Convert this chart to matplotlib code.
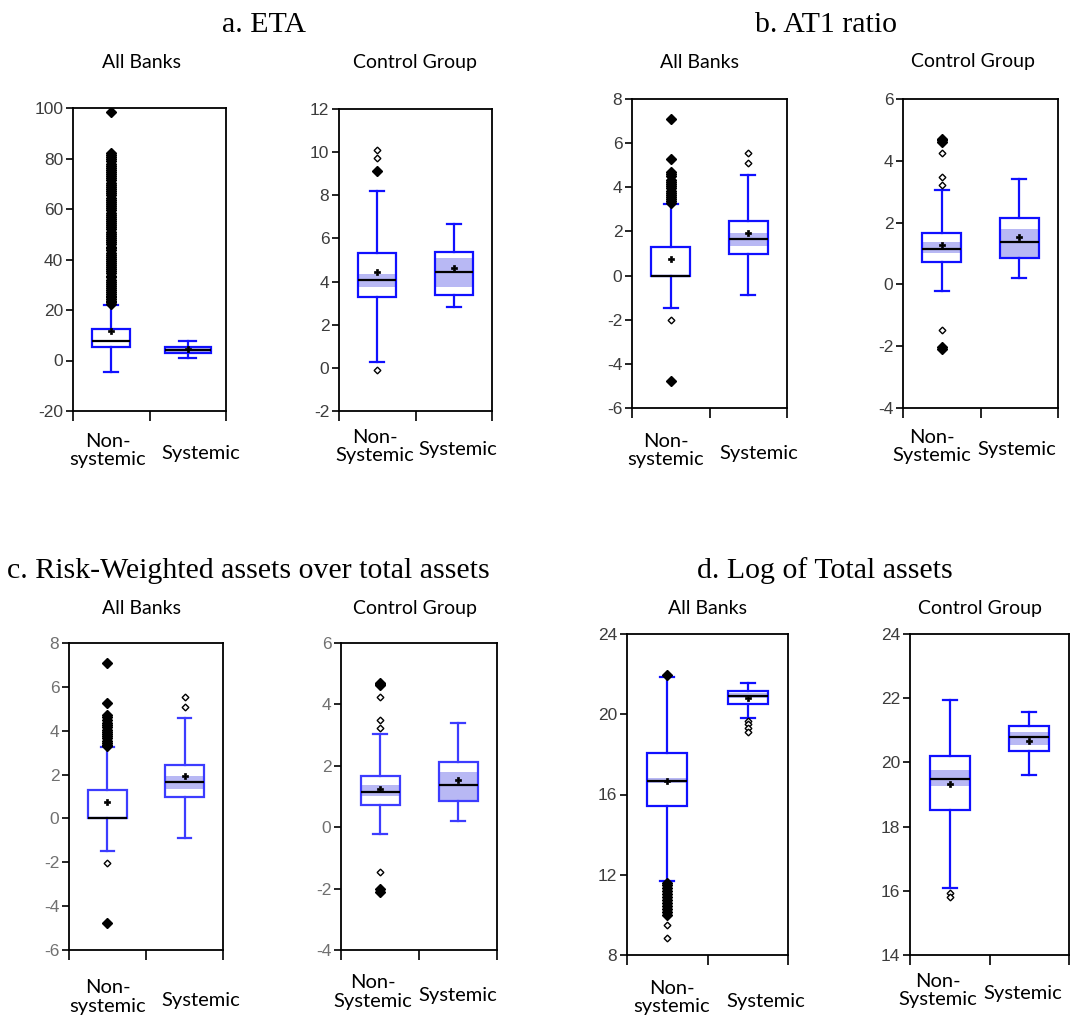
import matplotlib
matplotlib.use("Agg")
import matplotlib.pyplot as plt

W, H = 1071, 1025
fig = plt.figure(figsize=(W / 100, H / 100), dpi=100)
fig.patch.set_facecolor("white")

# ---------------- data ----------------
groups_all = ["Non-systemic", "Systemic"]
groups_ctrl = ["Non-Systemic", "Systemic"]

# a. ETA - All Banks
a_all_q1 = [5.5, 2.9]
a_all_med = [7.8, 4.2]
a_all_q3 = [12.4, 5.5]
a_all_wlo = [-4.4, 0.9]
a_all_whi = [22.0, 7.8]
a_all_mean = [11.7, 4.4]
a_all_ci = [(7.6, 8.0), (3.3, 5.1)]
a_all_far = [[22.5, 23, 23.6, 24.2, 25, 25.7, 26.5, 27.1, 28, 28.8, 29.5, 30.4, 31.2, 32,
              32.9, 33.6, 34.5, 35.3, 36.1, 37, 37.8, 38.6, 39.5, 40.2, 41, 41.9, 42.7,
              43.6, 44.4, 45.1, 46, 46.8, 47.7, 48.5, 49.4, 50.2, 51, 51.9, 52.8, 53.6,
              54.3, 55.2, 56.1, 56.9, 57.8, 58.6, 59.5, 60.3, 61.2, 62, 62.9, 63.7, 64.5,
              65.4, 66.2, 67.1, 67.9, 68.8, 69.6, 70.4, 71.3, 72.1, 73, 73.8, 74.7, 75.5,
              76.3, 77.2, 78, 78.9, 79.7, 80.5, 81.3, 82.0, 98.5], []]
a_all_near = [[], []]

# a. ETA - Control Group
a_ctl_q1 = [3.27, 3.36]
a_ctl_med = [4.07, 4.43]
a_ctl_q3 = [5.31, 5.39]
a_ctl_wlo = [0.27, 2.84]
a_ctl_whi = [8.21, 6.65]
a_ctl_mean = [4.43, 4.61]
a_ctl_ci = [(3.76, 4.35), (3.76, 5.08)]
a_ctl_far = [[9.13], []]
a_ctl_near = [[10.1, 9.71, -0.1], []]

# b. AT1 ratio - All Banks
b_all_q1 = [0.0, 0.97]
b_all_med = [0.0, 1.66]
b_all_q3 = [1.29, 2.45]
b_all_wlo = [-1.49, -0.9]
b_all_whi = [3.25, 4.56]
b_all_mean = [0.76, 1.92]
b_all_ci = [(-0.02, 0.02), (1.36, 1.95)]
b_all_far = [[7.11, 5.28, 3.3, 3.37, 3.45, 3.55, 3.65, 3.75, 3.85, 3.95, 4.05, 4.15,
              4.25, 4.35, 4.5, 4.62, 4.71, -4.76], []]
b_all_near = [[-2.03], [5.54, 5.09]]

# b. AT1 ratio - Control Group
b_ctl_q1 = [0.73, 0.85]
b_ctl_med = [1.15, 1.36]
b_ctl_q3 = [1.66, 2.14]
b_ctl_wlo = [-0.22, 0.21]
b_ctl_whi = [3.04, 3.41]
b_ctl_mean = [1.26, 1.55]
b_ctl_ci = [(1.01, 1.37), (0.9, 1.8)]
b_ctl_far = [[4.7, 4.66, 4.62, -2.02, -2.1], []]
b_ctl_near = [[4.24, 3.49, 3.22, -1.47], []]

# c. Risk-Weighted assets over total assets - All Banks
c_all_q1 = [0.0, 0.97]
c_all_med = [0.0, 1.66]
c_all_q3 = [1.29, 2.45]
c_all_wlo = [-1.49, -0.9]
c_all_whi = [3.25, 4.56]
c_all_mean = [0.76, 1.92]
c_all_ci = [(-0.02, 0.02), (1.36, 1.95)]
c_all_far = [[7.11, 5.28, 3.3, 3.37, 3.45, 3.55, 3.65, 3.75, 3.85, 3.95, 4.05, 4.15,
              4.25, 4.35, 4.5, 4.62, 4.71, -4.76], []]
c_all_near = [[-2.03], [5.54, 5.09]]

# c. Risk-Weighted assets over total assets - Control Group
c_ctl_q1 = [0.73, 0.85]
c_ctl_med = [1.15, 1.36]
c_ctl_q3 = [1.66, 2.14]
c_ctl_wlo = [-0.22, 0.21]
c_ctl_whi = [3.04, 3.41]
c_ctl_mean = [1.26, 1.55]
c_ctl_ci = [(1.01, 1.37), (0.9, 1.8)]
c_ctl_far = [[4.7, 4.66, 4.62, -2.02, -2.1], []]
c_ctl_near = [[4.24, 3.49, 3.22, -1.47], []]

# d. Log of Total assets - All Banks
d_all_q1 = [15.45, 20.52]
d_all_med = [16.68, 20.92]
d_all_q3 = [18.06, 21.17]
d_all_wlo = [11.69, 19.79]
d_all_whi = [21.84, 21.57]
d_all_mean = [16.68, 20.8]
d_all_ci = [(16.57, 16.8), (20.79, 21.06)]
d_all_far = [[21.97, 11.6, 11.48, 11.35, 11.2, 11.05, 10.9, 10.75, 10.6, 10.45, 10.3,
              10.15, 10.0], []]
d_all_near = [[9.5, 8.87], [19.64, 19.5, 19.3, 19.14]]

# d. Log of Total assets - Control Group
d_ctl_q1 = [18.52, 20.37]
d_ctl_med = [19.48, 20.78]
d_ctl_q3 = [20.19, 21.14]
d_ctl_wlo = [16.1, 19.6]
d_ctl_whi = [21.95, 21.57]
d_ctl_mean = [19.32, 20.68]
d_ctl_ci = [(19.25, 19.77), (20.55, 20.96)]
d_ctl_far = [[], []]
d_ctl_near = [[15.92, 15.8], []]

panel_titles = ["a. ETA", "b. AT1 ratio",
                "c. Risk-Weighted assets over total assets", "d. Log of Total assets"]
sub_titles = ["All Banks", "Control Group"]

# ---------------- styling ----------------
SANS = ["Lato", "DejaVu Sans"]
SERIF = ["Liberation Serif", "DejaVu Serif"]
TICKF = ["Liberation Sans", "DejaVu Sans"]
BAND = "#b8b8f4"


def px_rect(x0, y0, x1, y1):
    return [x0 / W, 1 - y1 / H, (x1 - x0) / W, (y1 - y0) / H]


def draw_panel(rect, q1, med, q3, wlo, whi, mean, ci, far, near, ylim, yticks,
               blue="#1010ff", widths=(0.5, 0.5), lw=1.6, tickcolor="#3c3c3c"):
    ax = fig.add_axes(px_rect(*rect))
    pos = [0.5, 1.5]
    stats = []
    for i in range(2):
        stats.append(dict(q1=q1[i], med=med[i], q3=q3[i], whislo=wlo[i],
                          whishi=whi[i], mean=mean[i], fliers=[]))
    # notch / confidence band
    for i in range(2):
        lo, hi = ci[i]
        ax.bar(pos[i], hi - lo, bottom=lo, width=widths[i] * 0.97, color=BAND,
               edgecolor="none", zorder=1)
    ax.bxp(stats, positions=pos, widths=list(widths),
           capwidths=[w * 0.36 for w in widths],
           showmeans=False, showfliers=False, patch_artist=True,
           boxprops=dict(facecolor="none", edgecolor=blue, linewidth=lw),
           whiskerprops=dict(color=blue, linewidth=lw),
           capprops=dict(color=blue, linewidth=lw),
           medianprops=dict(color="black", linewidth=lw),
           zorder=2)
    ax.plot(pos, mean, linestyle="none", marker="P", ms=4.5, color="black",
            mec="black", mew=0.5, zorder=4)
    for i in range(2):
        if far[i]:
            ax.plot([pos[i]] * len(far[i]), far[i], linestyle="none", marker="D",
                    ms=4.6, color="black", zorder=4)
        if near[i]:
            ax.plot([pos[i]] * len(near[i]), near[i], linestyle="none", marker="D",
                    ms=3.4, mfc="white", mec="black", mew=1.0, zorder=4)
    ax.set_xlim(0, 2)
    ax.set_ylim(*ylim)
    ax.set_yticks(yticks)
    ax.set_yticklabels([str(t) for t in yticks], fontfamily=TICKF, fontsize=12.5,
                       color=tickcolor)
    ax.set_xticks([0, 1, 2])
    ax.set_xticklabels([])
    ax.tick_params(axis="y", direction="out", length=5, width=1.2, pad=2)
    ax.tick_params(axis="x", direction="out", length=7, width=1.2)
    for s in ax.spines.values():
        s.set_linewidth(1.3)
        s.set_color("black")
    return ax


def ftext(x, y, s, **kw):
    fig.text(x / W, 1 - y / H, s, **kw)


def xlabels(xn, xs, y1, y2, ys, second, size=14.5):
    ftext(xn, y1, "Non-", ha="center", va="baseline", fontfamily=SANS, fontsize=size)
    ftext(xn, y2, second, ha="center", va="baseline", fontfamily=SANS, fontsize=size)
    ftext(xs, ys, groups_all[1], ha="center", va="baseline", fontfamily=SANS,
          fontsize=size)


# ---------------- panels ----------------
draw_panel((73, 108, 226, 411), a_all_q1, a_all_med, a_all_q3, a_all_wlo, a_all_whi,
           a_all_mean, a_all_ci, a_all_far, a_all_near, (-20, 100),
           [-20, 0, 20, 40, 60, 80, 100], widths=(0.5, 0.6))
draw_panel((339, 109, 492, 411), a_ctl_q1, a_ctl_med, a_ctl_q3, a_ctl_wlo, a_ctl_whi,
           a_ctl_mean, a_ctl_ci, a_ctl_far, a_ctl_near, (-2, 12),
           [-2, 0, 2, 4, 6, 8, 10, 12])
draw_panel((632, 99, 787, 408), b_all_q1, b_all_med, b_all_q3, b_all_wlo, b_all_whi,
           b_all_mean, b_all_ci, b_all_far, b_all_near, (-6, 8),
           [-6, -4, -2, 0, 2, 4, 6, 8])
draw_panel((903, 99, 1058, 408), b_ctl_q1, b_ctl_med, b_ctl_q3, b_ctl_wlo, b_ctl_whi,
           b_ctl_mean, b_ctl_ci, b_ctl_far, b_ctl_near, (-4, 6),
           [-4, -2, 0, 2, 4, 6])
draw_panel((69, 643, 223, 950), c_all_q1, c_all_med, c_all_q3, c_all_wlo, c_all_whi,
           c_all_mean, c_all_ci, c_all_far, c_all_near, (-6, 8),
           [-6, -4, -2, 0, 2, 4, 6, 8], blue="#3c3cff", tickcolor="#707070")
draw_panel((341, 643, 497, 950), c_ctl_q1, c_ctl_med, c_ctl_q3, c_ctl_wlo, c_ctl_whi,
           c_ctl_mean, c_ctl_ci, c_ctl_far, c_ctl_near, (-4, 6),
           [-4, -2, 0, 2, 4, 6], blue="#3c3cff", tickcolor="#707070")
draw_panel((627, 634, 788, 955), d_all_q1, d_all_med, d_all_q3, d_all_wlo, d_all_whi,
           d_all_mean, d_all_ci, d_all_far, d_all_near, (8, 24),
           [8, 12, 16, 20, 24])
draw_panel((910, 634, 1069, 955), d_ctl_q1, d_ctl_med, d_ctl_q3, d_ctl_wlo, d_ctl_whi,
           d_ctl_mean, d_ctl_ci, d_ctl_far, d_ctl_near, (14, 24),
           [14, 16, 18, 20, 22, 24])

# ---------------- titles ----------------
ftext(222, 31.5, panel_titles[0], ha="left", va="baseline", fontfamily=SERIF, fontsize=21.5)
ftext(755, 31.5, panel_titles[1], ha="left", va="baseline", fontfamily=SERIF, fontsize=21.5)
ftext(7, 577.5, panel_titles[2], ha="left", va="baseline", fontfamily=SERIF, fontsize=21.5)
ftext(697, 577.5, panel_titles[3], ha="left", va="baseline", fontfamily=SERIF, fontsize=21.5)

for xc, yb, s in [(142, 68, sub_titles[0]), (415, 68, sub_titles[1]),
                  (700, 68, sub_titles[0]), (973, 67, sub_titles[1]),
                  (142, 613.5, sub_titles[0]), (415, 614, sub_titles[1]),
                  (707, 613.5, sub_titles[0]), (980, 614, sub_titles[1])]:
    ftext(xc, yb, s, ha="center", va="baseline", fontfamily=SANS, fontsize=14)

# ---------------- category labels ----------------
xlabels(108, 201, 446.7, 465, 459.3, "systemic")
xlabels(375, 458, 442.7, 460.7, 455, "Systemic")
xlabels(666, 759, 447.3, 465, 459.3, "systemic")
xlabels(932, 1017, 443.3, 460.7, 455, "Systemic")
xlabels(108, 201, 993.3, 1011.7, 1006, "systemic")
xlabels(373, 458, 988.3, 1006.7, 1000.7, "Systemic")
xlabels(672, 766, 994, 1011.7, 1006.7, "systemic")
xlabels(938, 1023, 986.7, 1005, 999.3, "Systemic")

fig.savefig("out.png", dpi=100, facecolor="white")
